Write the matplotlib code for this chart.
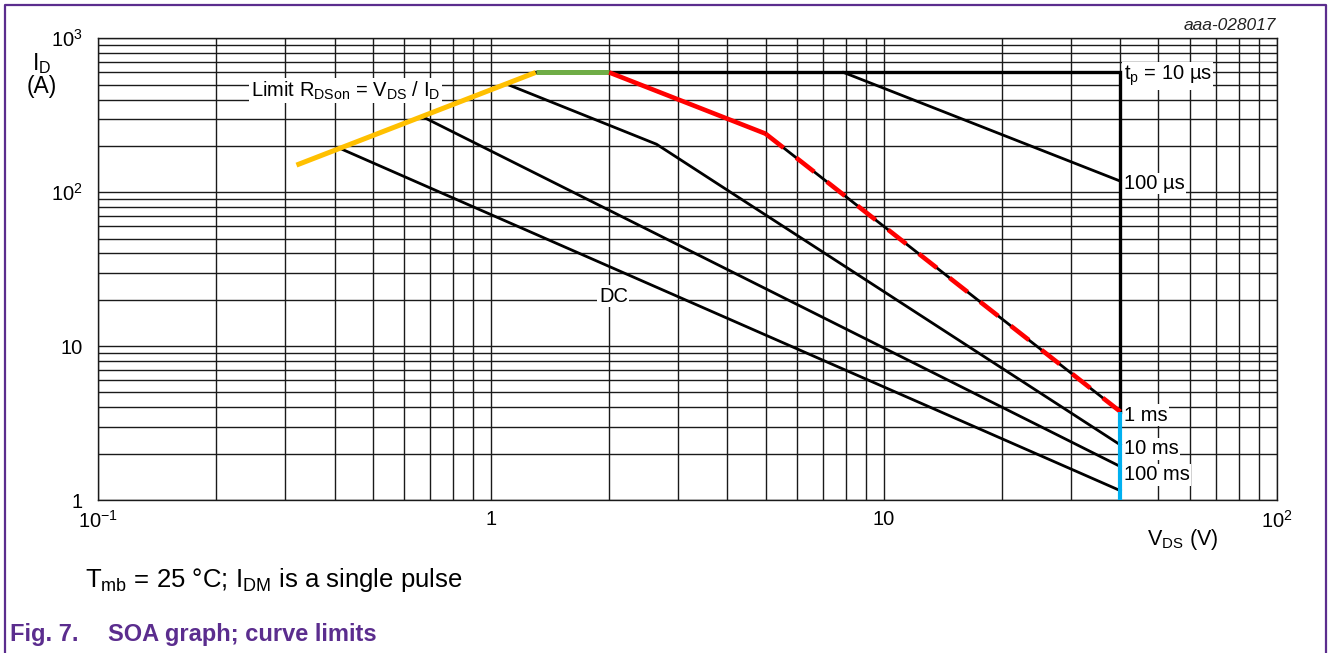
import matplotlib.pyplot as plt
from matplotlib.lines import Line2D
from matplotlib.ticker import LogLocator, NullFormatter

plt.rcParams['font.family'] = ['Liberation Sans', 'DejaVu Sans']
plt.rcParams['mathtext.fontset'] = 'custom'
plt.rcParams['mathtext.rm'] = 'Liberation Sans'
plt.rcParams['mathtext.it'] = 'Liberation Sans:italic'
plt.rcParams['mathtext.bf'] = 'Liberation Sans:bold'

# values (VDS in V, ID in A)
rdson_v = [0.32, 1.3]
rdson_i = [150, 600]
idm_v = [1.3, 2.0]
idm_i = [600, 600]
tp10us_v = [1.3, 40, 40]
tp10us_i = [600, 600, 3.75]
tp100us_v = [7.9, 40]
tp100us_i = [600, 118]
tp1ms_v = [2.0, 5.0, 40]
tp1ms_i = [600, 240, 3.75]
tp10ms_v = [1.095, 2.64, 40]
tp10ms_i = [505, 205, 2.28]
tp100ms_v = [0.674, 40]
tp100ms_i = [307, 1.65]
dc_v = [0.418, 40]
dc_i = [190, 1.15]
vmax_v = [40, 40]
vmax_i = [3.75, 1.0]

xticks = [0.1, 1, 10, 100]
xticklabels = [r'$\mathregular{10^{-1}}$', '1', '10', r'$\mathregular{10^{2}}$']
yticks = [1, 10, 100, 1000]
yticklabels = ['1', '10', r'$\mathregular{10^{2}}$', r'$\mathregular{10^{3}}$']

PURPLE = '#5b2d8e'

W, H = 1328, 653
fig = plt.figure(figsize=(W / 100, H / 100), dpi=100)
ax = fig.add_axes([98 / W, 1 - 500 / H, 1178.7 / W, 461.7 / H])
ax.set_xscale('log')
ax.set_yscale('log')
ax.set_xlim(0.1, 100)
ax.set_ylim(1, 1000)

ax.xaxis.set_minor_locator(LogLocator(base=10, subs=range(2, 10)))
ax.yaxis.set_minor_locator(LogLocator(base=10, subs=range(2, 10)))
ax.xaxis.set_minor_formatter(NullFormatter())
ax.yaxis.set_minor_formatter(NullFormatter())
ax.set_xticks(xticks)
ax.set_xticklabels(xticklabels)
ax.set_yticks(yticks)
ax.set_yticklabels(yticklabels)
ax.tick_params(which='both', length=0, labelsize=14.5)
ax.tick_params(axis='x', pad=7)
ax.tick_params(axis='y', pad=11)
ax.grid(True, which='both', color='#1a1a1a', lw=1.0, zorder=0)
ax.set_axisbelow(True)
for s in ax.spines.values():
    s.set_color('#1a1a1a')
    s.set_linewidth(1.0)

# black curves
ax.plot(tp10us_v, tp10us_i, color='black', lw=2.4, zorder=3, solid_joinstyle='miter')
for v, i in [(tp100us_v, tp100us_i), (tp1ms_v, tp1ms_i), (tp10ms_v, tp10ms_i),
             (tp100ms_v, tp100ms_i), (dc_v, dc_i)]:
    ax.plot(v, i, color='black', lw=2.0, zorder=3)

# coloured limits
ax.plot(rdson_v, rdson_i, color='#ffc000', lw=3.6, zorder=4, solid_capstyle='butt')
ax.plot(idm_v, idm_i, color='#70ad47', lw=3.6, zorder=4, solid_capstyle='butt')
ax.plot(tp1ms_v[:2], tp1ms_i[:2], color='#ff0000', lw=3.3, zorder=4, solid_capstyle='butt')
ax.plot(tp1ms_v[1:], tp1ms_i[1:], color='#ff0000', lw=3.3, zorder=4,
        dashes=(5, 3.5), dash_capstyle='butt')
ax.plot(vmax_v, vmax_i, color='#00b0f0', lw=3.0, zorder=4, solid_capstyle='butt')

box = dict(facecolor='white', edgecolor='none', pad=1.0)
lbl = dict(fontsize=14.5, zorder=2, bbox=box, va='center')
ax.text(0.245, 458, r'Limit R$_\mathregular{DSon}$ = V$_\mathregular{DS}$ / I$_\mathregular{D}$',
        ha='left', **lbl)
ax.text(40.8, 570, r't$_\mathregular{p}$ = 10 µs', ha='left', **lbl)
ax.text(40.8, 114, '100 µs', ha='left', **lbl)
ax.text(40.8, 3.55, '1 ms', ha='left', **lbl)
ax.text(40.8, 2.15, '10 ms', ha='left', **lbl)
ax.text(40.8, 1.46, '100 ms', ha='left', **lbl)
ax.text(2.05, 21.1, 'DC', ha='center', **lbl)

# axis titles and annotations
fig.text(42 / W, 1 - 64 / H, r'I$_\mathregular{D}$', fontsize=16.5, ha='center', va='center')
fig.text(42 / W, 1 - 86 / H, '(A)', fontsize=16.5, ha='center', va='center')
fig.text(1183 / W, 1 - 540 / H, r'V$_\mathregular{DS}$ (V)', fontsize=15.5, ha='center', va='center')
fig.text(1276 / W, 1 - 25 / H, 'aaa-028017', fontsize=12.5, style='italic',
         color='#222222', ha='right', va='center')
fig.text(85 / W, 1 - 580 / H, r'T$_\mathregular{mb}$ = 25 °C; I$_\mathregular{DM}$ is a single pulse',
         fontsize=18.5, ha='left', va='center')
fig.text(10 / W, 1 - 635 / H, 'Fig. 7.', fontsize=17, weight='bold', color=PURPLE,
         ha='left', va='center')
fig.text(108 / W, 1 - 635 / H, 'SOA graph; curve limits', fontsize=17, weight='bold',
         color=PURPLE, ha='left', va='center')

# purple page frame (top, left, right)
fx = [5 / W, 5 / W, 1325.5 / W, 1325.5 / W]
fy = [0.0, 1 - 4.5 / H, 1 - 4.5 / H, 0.0]
fig.add_artist(Line2D(fx, fy, transform=fig.transFigure, color=PURPLE, lw=1.6))

fig.savefig('out.png', dpi=100)
